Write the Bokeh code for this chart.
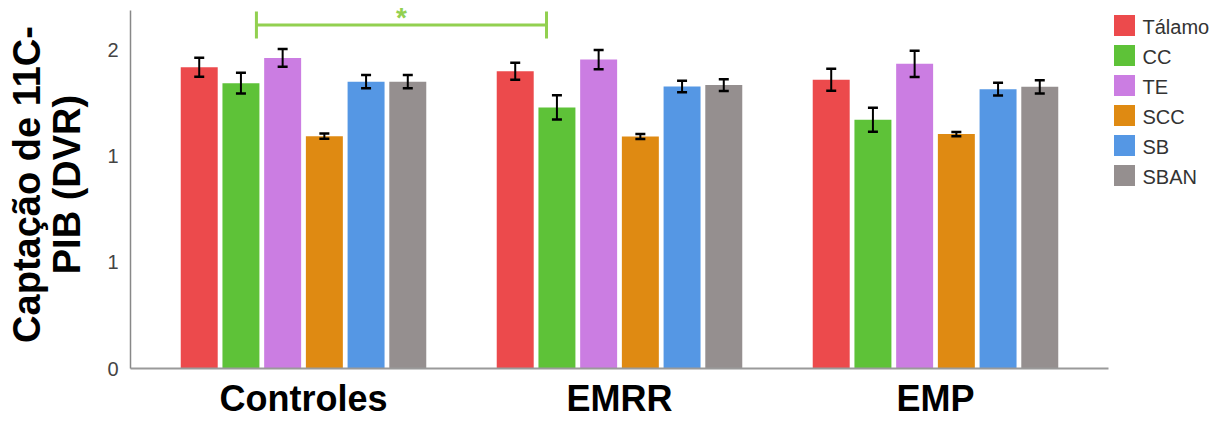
from bokeh.plotting import figure
from bokeh.layouts import row
from bokeh.models import (ColumnDataSource, FactorRange, Range1d, LinearAxis,
                          FixedTicker)
from bokeh.transform import dodge
from bokeh.core.properties import value
from bokeh.embed import file_html
from bokeh.resources import INLINE

# Groups on the x axis and brain regions within each group
groups = ["Controles", "EMRR", "EMP"]
regions = ["Tálamo", "CC", "TE", "SCC", "SB", "SBAN"]

# Mean 11C-PIB uptake (DVR) per region, one value per group
talamo = [1.417, 1.398, 1.358]
cc = [1.342, 1.228, 1.170]
te = [1.461, 1.453, 1.433]
scc = [1.093, 1.091, 1.103]
sb = [1.349, 1.326, 1.314]
sban = [1.349, 1.333, 1.325]

# Error bar half-widths
talamo_err = [0.045, 0.040, 0.052]
cc_err = [0.049, 0.057, 0.056]
te_err = [0.042, 0.045, 0.062]
scc_err = [0.012, 0.012, 0.010]
sb_err = [0.031, 0.027, 0.030]
sban_err = [0.031, 0.028, 0.031]

# Y ticks and their printed labels
y_ticks = [0, 0.5, 1, 1.5]
y_tick_labels = ["0", "1", "1", "2"]

# Significance bracket (Controles vs EMRR)
sig_groups = ["Controles", "EMRR"]
sig_level = 1.616
sig_top = 1.679
sig_bottom = 1.552
sig_mark = "*"

means = [talamo, cc, te, scc, sb, sban]
errors = [talamo_err, cc_err, te_err, scc_err, sb_err, sban_err]
colors = ["#ec4a4c", "#5ec238", "#cb7de2", "#df8a12", "#5597e4", "#958f8f"]

FONT = "Liberation Sans"
TOP, BOTTOM = 0, 53  # shared borders so both panels line up

p = figure(
    width=1110, height=421,
    x_range=FactorRange(factors=groups, factor_padding=0,
                        range_padding=0.0475, range_padding_units="absolute"),
    y_range=Range1d(0, 1.731),
    output_backend="svg", toolbar_location=None,
    min_border_left=130, min_border_right=2,
    min_border_top=TOP, min_border_bottom=BOTTOM,
)
p.outline_line_color = None
p.xgrid.visible = False
p.ygrid.visible = False

pitch = 0.132
bar_width = 0.117
for i, (vals, errs, col) in enumerate(zip(means, errors, colors)):
    src = ColumnDataSource(dict(
        grp=groups, val=vals,
        lo=[v - e for v, e in zip(vals, errs)],
        hi=[v + e for v, e in zip(vals, errs)],
    ))
    xpos = dodge("grp", (i - 2.5) * pitch, range=p.x_range)
    p.vbar(x=xpos, top="val", width=bar_width, bottom=0, source=src,
           fill_color=col, line_color=None)
    p.segment(x0=xpos, x1=xpos, y0="lo", y1="hi", source=src,
              line_color="black", line_width=2)
    p.scatter(x=xpos, y="hi", marker="dash", size=10, source=src,
              line_color="black", line_width=2.5)
    p.scatter(x=xpos, y="lo", marker="dash", size=10, source=src,
              line_color="black", line_width=2.5)

# Significance bracket
sig_src = ColumnDataSource(dict(a=[sig_groups[0]], b=[sig_groups[1]],
                                y=[sig_level], y0=[sig_bottom], y1=[sig_top],
                                t=[sig_mark]))
xa = dodge("a", -0.149, range=p.x_range)
xb = dodge("b", -0.231, range=p.x_range)
green = "#92d050"
p.segment(x0=xa, x1=xb, y0="y", y1="y", source=sig_src, line_color=green, line_width=3)
p.segment(x0=xa, x1=xa, y0="y0", y1="y1", source=sig_src, line_color=green, line_width=3)
p.segment(x0=xb, x1=xb, y0="y0", y1="y1", source=sig_src, line_color=green, line_width=3)
p.text(x=dodge("a", 0.31, range=p.x_range), y="y1", text="t", source=sig_src,
       text_color=green, text_font=value(FONT), text_font_style="bold",
       text_font_size="28px", text_align="center", text_baseline="top",
       y_offset=-10)

# X axis
xa_ = p.xaxis[0]
xa_.axis_line_color = "#9a9a9a"
xa_.axis_line_width = 2
xa_.major_tick_line_color = None
xa_.minor_tick_line_color = None
xa_.major_tick_out = 0
xa_.major_label_text_font = FONT
xa_.major_label_text_font_style = "bold"
xa_.major_label_text_font_size = "36px"
xa_.major_label_text_color = "black"
xa_.major_label_standoff = 9

# Y axis (second title line closest to the axis)
ya = p.yaxis[0]
ya.bounds = (0, 1.684)
ya.ticker = FixedTicker(ticks=y_ticks)
ya.major_label_overrides = dict(zip(y_ticks, y_tick_labels))
ya.axis_line_color = "#888888"
ya.axis_line_width = 1.5
ya.major_tick_line_color = None
ya.minor_tick_line_color = None
ya.major_tick_out = 0
ya.major_label_standoff = 12
ya.major_label_text_font = FONT
ya.major_label_text_font_size = "20px"
ya.major_label_text_color = "#444444"
ya.axis_label = "PIB (DVR)"
ya.axis_label_text_font = FONT
ya.axis_label_text_font_style = "bold"
ya.axis_label_text_font_size = "38px"
ya.axis_label_text_color = "black"
ya.axis_label_standoff = 16

# Outer axis carrying the first title line
ya2 = LinearAxis(ticker=FixedTicker(ticks=[]), axis_line_color=None,
                 major_tick_line_color=None, minor_tick_line_color=None,
                 major_tick_out=0, major_label_standoff=0,
                 axis_label="Captação de 11C-", axis_label_text_font=FONT,
                 axis_label_text_font_style="bold",
                 axis_label_text_font_size="38px",
                 axis_label_text_color="black", axis_label_standoff=-4)
p.add_layout(ya2, "left")

# Legend panel: one row per region, swatch plus name (row 0 at the top)
lp = figure(width=120, height=421, x_range=Range1d(0, 120),
            y_range=Range1d(11.433, -0.833),
            x_axis_type=None, y_axis_type=None,
            output_backend="svg", toolbar_location=None,
            min_border_left=0, min_border_right=0,
            min_border_top=TOP, min_border_bottom=BOTTOM)
lp.outline_line_color = None
lp.xgrid.visible = False
lp.ygrid.visible = False
leg_src = ColumnDataSource(dict(region=regions, color=colors,
                                pos=list(range(len(regions)))))
lp.rect(x=14, y="pos", width=21, height=21, width_units="screen",
        height_units="screen", fill_color="color", line_color=None,
        source=leg_src)
lp.text(x=32, y="pos", text="region", source=leg_src,
        text_font=value(FONT), text_font_size="20px", text_color="#333333",
        text_baseline="middle", text_align="left", y_offset=2)

open("out.html", "w").write(file_html(row(p, lp), INLINE))
